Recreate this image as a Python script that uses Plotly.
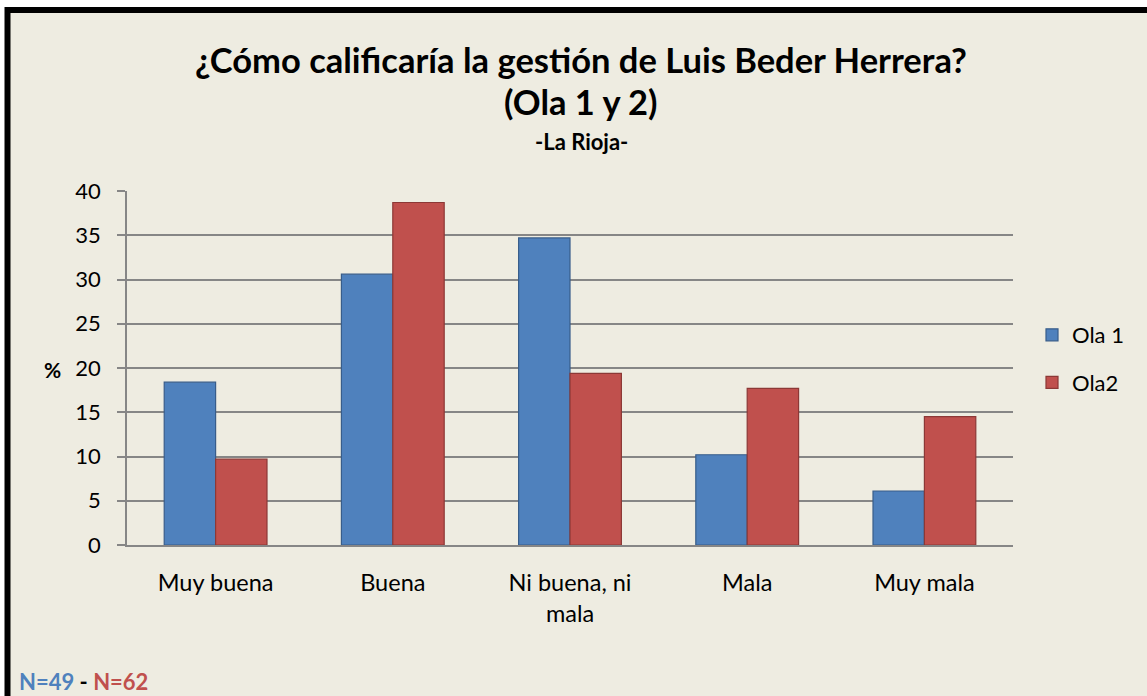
import plotly.graph_objects as go

categories = ["Muy buena", "Buena", "Ni buena, ni<br>mala", "Mala", "Muy mala"]
ola1 = [18.4, 30.6, 34.7, 10.2, 6.1]
ola2 = [9.7, 38.7, 19.4, 17.7, 14.5]
series_names = ["Ola 1", "Ola2"]
y_ticks = [0, 5, 10, 15, 20, 25, 30, 35, 40]

W, H = 1147, 696
FONT = "Lato"
pl, pr, pt, pb = 127, 1013, 191, 545

fig = go.Figure()
fig.add_trace(go.Bar(
    x=categories, y=ola1, name=series_names[0], legendgroup="a",
    marker=dict(color="#4F81BD", line=dict(color="#385D8A", width=1.2)),
))
fig.add_trace(go.Bar(
    x=categories, y=ola2, name=series_names[1], legendgroup="b",
    marker=dict(color="#C0504D", line=dict(color="#8C3836", width=1.2)),
))

fig.update_layout(
    width=W, height=H,
    margin=dict(l=pl, r=W - pr, t=pt, b=H - pb),
    paper_bgcolor="#FFFFFF",
    plot_bgcolor="#E6E6E6",
    barmode="group",
    bargap=0.42,
    bargroupgap=0,
    font=dict(family=FONT, color="#000000", size=22),
    showlegend=True,
    legend=dict(
        x=(1032 - pl) / (pr - pl), y=(pb - 359) / (pb - pt),
        xanchor="left", yanchor="middle",
        font=dict(family=FONT, size=22),
        bgcolor="rgba(0,0,0,0)",
        tracegroupgap=16,
        itemwidth=30,
    ),
    xaxis=dict(
        showgrid=False,
        showline=True, linecolor="#868686", linewidth=1.5,
        ticks="outside", ticklen=0,
        ticklabelstandoff=16,
        tickfont=dict(family=FONT, size=23.5),
        fixedrange=True,
    ),
    yaxis=dict(
        range=[0, 40],
        tickvals=y_ticks,
        showgrid=True, gridcolor="#868686", gridwidth=1.5,
        showline=True, linecolor="#868686", linewidth=1.5,
        ticks="outside", ticklen=8, tickcolor="#868686", tickwidth=1.5,
        ticklabelstandoff=12,
        tickfont=dict(family=FONT, size=22),
        zeroline=False,
        fixedrange=True,
    ),
)


def ax(fx):
    return (fx - pl) / (pr - pl)


def ay(fy):
    return (pb - fy) / (pb - pt)


annotations = [
    dict(text="<b>¿Cómo calificaría la gestión de Luis Beder Herrera?</b>",
         x=ax(581), y=ay(59), font=dict(size=34.5, family=FONT)),
    dict(text="<b>(Ola 1 y 2)</b>",
         x=ax(581), y=ay(102), font=dict(size=34.5, family=FONT)),
    dict(text="<b>-La Rioja-</b>",
         x=ax(581), y=ay(141), font=dict(size=22, family=FONT)),
    dict(text="<b>%</b>",
         x=ax(52), y=ay(369), font=dict(size=21, family=FONT)),
    dict(text="<b><span style='color:#4F81BD'>N=49</span> - <span style='color:#C0504D'>N=62</span></b>",
         x=ax(17), y=ay(681), xanchor="left", font=dict(size=22, family=FONT)),
]
for a in annotations:
    a.setdefault("xanchor", "center")
    a.update(xref="paper", yref="paper", yanchor="middle", showarrow=False)
fig.update_layout(annotations=annotations)

# beige chart area with the thick black border (top and left visible)
bx0, bx1, by0, by1 = 7.5, 1170, 10, 720
fig.add_shape(type="rect", xref="paper", yref="paper",
              x0=ax(bx0), x1=ax(bx1), y0=ay(by1), y1=ay(by0),
              line=dict(color="#000000", width=6), fillcolor="#EEECE1",
              layer="below")

fig.write_html("out.html", config={"displayModeBar": False},
               post_script="document.body.style.margin='0';")
